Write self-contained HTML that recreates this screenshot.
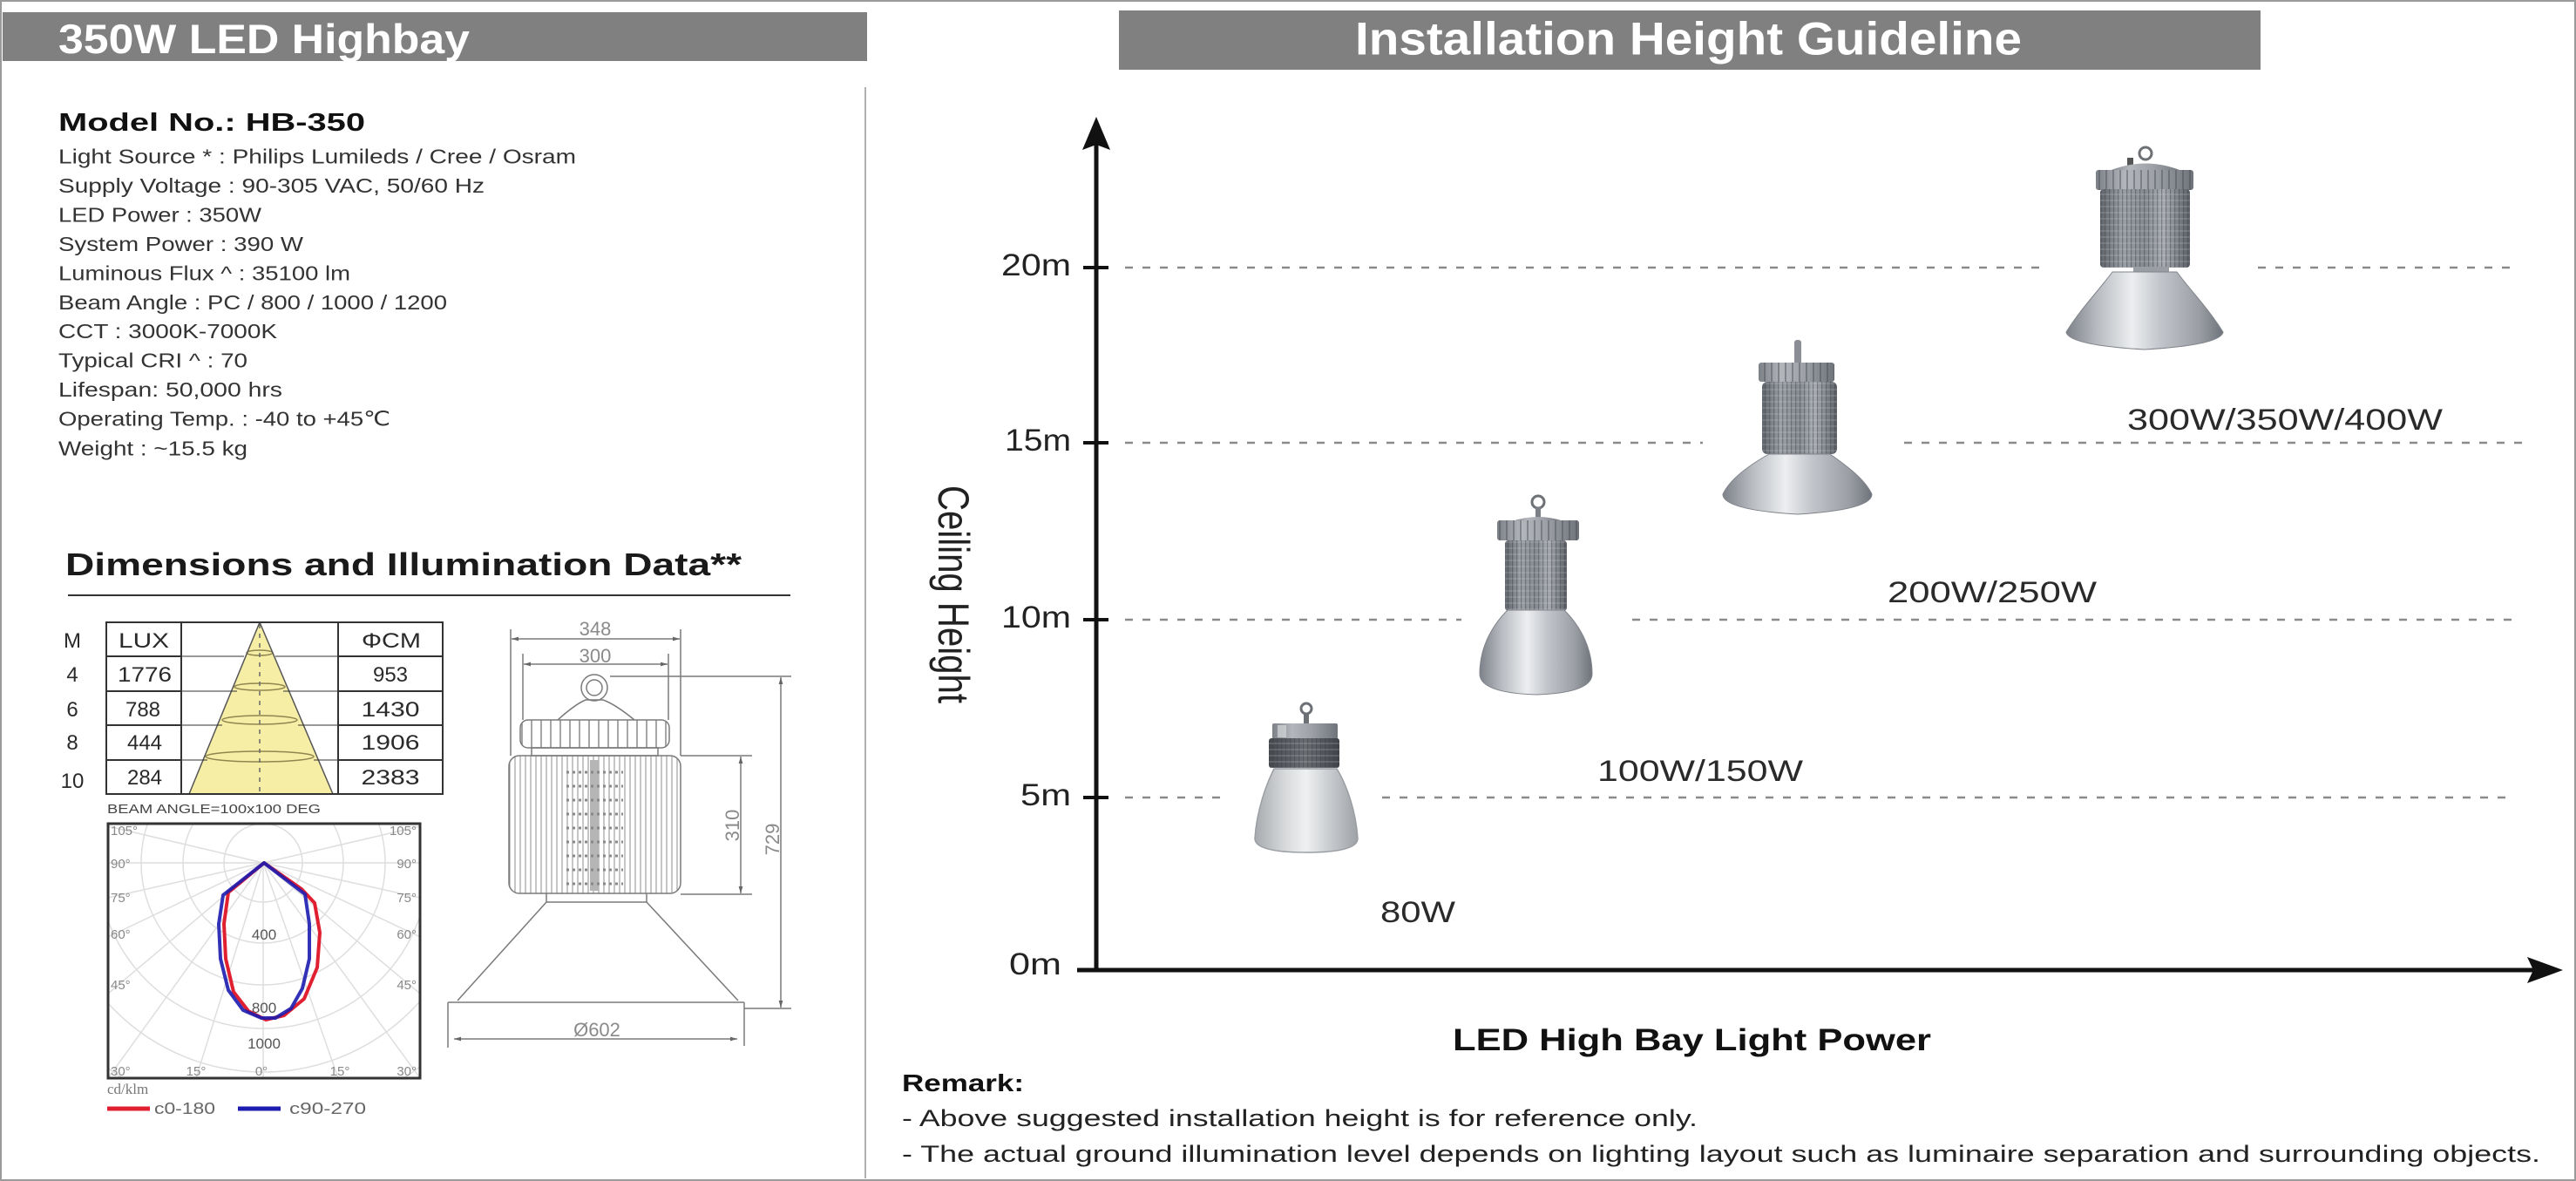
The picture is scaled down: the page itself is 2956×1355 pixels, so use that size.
<!DOCTYPE html>
<html><head><meta charset="utf-8"><style>
html,body{margin:0;padding:0;background:#fff;}
svg{display:block;}
text{font-family:"Liberation Sans",Arial,sans-serif;}
.serif{font-family:"Liberation Serif","DejaVu Serif",serif;}
</style></head><body>
<svg width="2956" height="1355" viewBox="0 0 2956 1355" xmlns="http://www.w3.org/2000/svg">
<defs>
  <linearGradient id="gBody" x1="0" x2="1" y1="0" y2="0">
    <stop offset="0" stop-color="#5f636a"/><stop offset=".25" stop-color="#9a9ea5"/><stop offset=".5" stop-color="#858990"/><stop offset=".7" stop-color="#a8acb2"/><stop offset="1" stop-color="#5b5f66"/>
  </linearGradient>
  <linearGradient id="gCap" x1="0" x2="1" y1="0" y2="0">
    <stop offset="0" stop-color="#7c8087"/><stop offset=".3" stop-color="#b3b6bb"/><stop offset=".6" stop-color="#9da1a7"/><stop offset="1" stop-color="#6f737a"/>
  </linearGradient>
  <linearGradient id="gRefl" x1="0" x2="1" y1="0" y2="0">
    <stop offset="0" stop-color="#7d8189"/><stop offset=".2" stop-color="#b9bcc1"/><stop offset=".42" stop-color="#eceef0"/><stop offset=".6" stop-color="#c2c5ca"/><stop offset=".85" stop-color="#9a9ea4"/><stop offset="1" stop-color="#6e727a"/>
  </linearGradient>
  <linearGradient id="gFrost" x1="0" x2="1" y1="0" y2="0">
    <stop offset="0" stop-color="#a7aaae"/><stop offset=".3" stop-color="#d8dadc"/><stop offset=".5" stop-color="#eef0f1"/><stop offset=".7" stop-color="#cdd0d3"/><stop offset="1" stop-color="#9ea1a5"/>
  </linearGradient>
  <linearGradient id="gDark" x1="0" x2="1" y1="0" y2="0">
    <stop offset="0" stop-color="#45484d"/><stop offset=".5" stop-color="#6a6d72"/><stop offset="1" stop-color="#404348"/>
  </linearGradient>
  <pattern id="pFin" width="5" height="7" patternUnits="userSpaceOnUse">
    <line x1="0.5" y1="0" x2="0.5" y2="7" stroke="#3d4046" stroke-opacity=".45" stroke-width="1.5"/>
    <line x1="0" y1="6" x2="5" y2="6" stroke="#d0d3d7" stroke-opacity=".35" stroke-width="1"/>
  </pattern>
  <pattern id="pCapFin" width="8" height="30" patternUnits="userSpaceOnUse">
    <line x1="1" y1="0" x2="1" y2="30" stroke="#4a4d52" stroke-opacity=".45" stroke-width="2"/>
  </pattern>
  <pattern id="pDrawFin" width="6" height="20" patternUnits="userSpaceOnUse">
    <line x1="3" y1="0" x2="3" y2="20" stroke="#8d8d8d" stroke-width="1"/>
  </pattern>
  <pattern id="pDrawCap" width="11" height="40" patternUnits="userSpaceOnUse">
    <line x1="5" y1="0" x2="5" y2="40" stroke="#888" stroke-width="1.5"/>
  </pattern>
  <marker id="arr" viewBox="0 0 10 10" refX="10" refY="5" markerWidth="8" markerHeight="8" orient="auto-start-reverse" markerUnits="userSpaceOnUse">
    <path d="M0,2 L10,5 L0,8 Z" fill="#666"/>
  </marker>
  <clipPath id="polarClip"><rect x="124" y="945" width="358" height="292"/></clipPath>
</defs>

<!-- frame -->
<rect x="1" y="1" width="2954" height="1353" fill="#fff" stroke="#9a9a9a" stroke-width="2"/>
<line x1="993" y1="100" x2="993" y2="1352" stroke="#b0b0b0" stroke-width="2"/>

<!-- ============ LEFT PANEL ============ -->
<rect x="3" y="14" width="992" height="56" fill="#808080"/>
<text x="67" y="61" font-size="47" font-weight="bold" fill="#fff" textLength="472" lengthAdjust="spacingAndGlyphs">350W LED Highbay</text>

<text x="67" y="150" font-size="29" font-weight="bold" fill="#111" textLength="352" lengthAdjust="spacingAndGlyphs">Model No.: HB-350</text>
<g font-size="23" fill="#333">
  <text x="67" y="187.5" textLength="594" lengthAdjust="spacingAndGlyphs">Light Source * : Philips Lumileds / Cree / Osram</text>
  <text x="67" y="221" textLength="489" lengthAdjust="spacingAndGlyphs">Supply Voltage : 90-305 VAC, 50/60 Hz</text>
  <text x="67" y="254.5" textLength="233" lengthAdjust="spacingAndGlyphs">LED Power : 350W</text>
  <text x="67" y="288" textLength="281" lengthAdjust="spacingAndGlyphs">System Power : 390 W</text>
  <text x="67" y="321.5" textLength="335" lengthAdjust="spacingAndGlyphs">Luminous Flux ^ : 35100 lm</text>
  <text x="67" y="355" textLength="446" lengthAdjust="spacingAndGlyphs">Beam Angle : PC / 800 / 1000 / 1200</text>
  <text x="67" y="388" textLength="251" lengthAdjust="spacingAndGlyphs">CCT : 3000K-7000K</text>
  <text x="67" y="421.5" textLength="217" lengthAdjust="spacingAndGlyphs">Typical CRI ^ : 70</text>
  <text x="67" y="455" textLength="257" lengthAdjust="spacingAndGlyphs">Lifespan: 50,000 hrs</text>
  <text x="67" y="488.5" textLength="381" lengthAdjust="spacingAndGlyphs">Operating Temp. : -40 to +45℃</text>
  <text x="67" y="522.5" textLength="217" lengthAdjust="spacingAndGlyphs">Weight : ~15.5 kg</text>
</g>

<text x="75" y="660" font-size="36" font-weight="bold" fill="#1a1a1a" textLength="776" lengthAdjust="spacingAndGlyphs">Dimensions and Illumination Data**</text>
<line x1="78" y1="683" x2="907" y2="683" stroke="#333" stroke-width="2"/>

<!-- table -->
<polygon points="298,714 217,911 382,911" fill="#f7eea6"/>
<g fill="none" stroke="#8f8650" stroke-width="1.5">
  <ellipse cx="298" cy="749" rx="15" ry="3"/>
  <ellipse cx="298" cy="788" rx="29" ry="4"/>
  <ellipse cx="298" cy="826" rx="43" ry="5"/>
  <ellipse cx="298" cy="868" rx="62" ry="6"/>
</g>
<line x1="298" y1="716" x2="298" y2="911" stroke="#666" stroke-width="1.5" stroke-dasharray="5 6"/>
<line x1="298" y1="714" x2="217" y2="911" stroke="#555" stroke-width="1.5"/>
<line x1="298" y1="714" x2="382" y2="911" stroke="#555" stroke-width="1.5"/>
<g stroke="#333" stroke-width="2" fill="none">
  <rect x="122" y="714" width="386" height="197"/>
  <line x1="208" y1="714" x2="208" y2="911"/>
  <line x1="388" y1="714" x2="388" y2="911"/>
  <line x1="122" y1="753" x2="208" y2="753"/><line x1="388" y1="753" x2="508" y2="753"/>
  <line x1="122" y1="793" x2="208" y2="793"/><line x1="388" y1="793" x2="508" y2="793"/>
  <line x1="122" y1="832" x2="208" y2="832"/><line x1="388" y1="832" x2="508" y2="832"/>
  <line x1="122" y1="872" x2="208" y2="872"/><line x1="388" y1="872" x2="508" y2="872"/>
  <line x1="208" y1="753" x2="280" y2="753" stroke-opacity=".5"/><line x1="316" y1="753" x2="388" y2="753" stroke-opacity=".5"/>
  <line x1="208" y1="793" x2="272" y2="793" stroke-opacity=".5"/><line x1="325" y1="793" x2="388" y2="793" stroke-opacity=".5"/>
  <line x1="208" y1="832" x2="255" y2="832" stroke-opacity=".5"/><line x1="342" y1="832" x2="388" y2="832" stroke-opacity=".5"/>
  <line x1="208" y1="872" x2="238" y2="872" stroke-opacity=".5"/><line x1="360" y1="872" x2="388" y2="872" stroke-opacity=".5"/>
</g>
<g font-size="24" fill="#2a2a2a" text-anchor="middle">
  <text x="83" y="743">M</text>
  <text x="83" y="782">4</text>
  <text x="83" y="822">6</text>
  <text x="83" y="860">8</text>
  <text x="83" y="904">10</text>
  <text x="165" y="743" textLength="58" lengthAdjust="spacingAndGlyphs">LUX</text>
  <text x="166" y="782" textLength="62" lengthAdjust="spacingAndGlyphs">1776</text>
  <text x="164" y="822">788</text>
  <text x="166" y="860">444</text>
  <text x="166" y="900">284</text>
  <text x="449" y="743" textLength="68" lengthAdjust="spacingAndGlyphs">ΦCM</text>
  <text x="448" y="782">953</text>
  <text x="448" y="822" textLength="67" lengthAdjust="spacingAndGlyphs">1430</text>
  <text x="448" y="860" textLength="67" lengthAdjust="spacingAndGlyphs">1906</text>
  <text x="448" y="900" textLength="67" lengthAdjust="spacingAndGlyphs">2383</text>
</g>
<text x="123" y="933" font-size="15" fill="#444" textLength="245" lengthAdjust="spacingAndGlyphs">BEAM ANGLE=100x100 DEG</text>

<!-- polar chart -->
<rect x="124" y="945" width="358" height="292" fill="#fff"/>
<g clip-path="url(#polarClip)" fill="none" stroke="#dedede" stroke-width="1.5">
  <circle cx="302" cy="990" r="45"/>
  <circle cx="302" cy="990" r="92"/>
  <circle cx="302" cy="990" r="140"/>
  <circle cx="302" cy="990" r="190"/>
  <circle cx="302" cy="990" r="240"/>
  <circle cx="302" cy="990" r="295"/>
  <circle cx="302" cy="990" r="355"/>
  <line x1="302" y1="990" x2="124" y2="948"/><line x1="302" y1="990" x2="482" y2="948"/>
  <line x1="302" y1="990" x2="124" y2="990"/><line x1="302" y1="990" x2="482" y2="990"/>
  <line x1="302" y1="990" x2="124" y2="1030"/><line x1="302" y1="990" x2="482" y2="1030"/>
  <line x1="302" y1="990" x2="124" y2="1075"/><line x1="302" y1="990" x2="482" y2="1075"/>
  <line x1="302" y1="990" x2="124" y2="1140"/><line x1="302" y1="990" x2="482" y2="1140"/>
  <line x1="302" y1="990" x2="124" y2="1237"/><line x1="302" y1="990" x2="482" y2="1237"/>
  <line x1="302" y1="990" x2="225" y2="1237"/><line x1="302" y1="990" x2="388" y2="1237"/>
  <line x1="302" y1="990" x2="302" y2="1237"/>
</g>
<g class="serif" font-size="15" fill="#888">
  <text x="127" y="958">105°</text><text x="478" y="958" text-anchor="end">105°</text>
  <text x="127" y="996">90°</text><text x="478" y="996" text-anchor="end">90°</text>
  <text x="127" y="1035">75°</text><text x="478" y="1035" text-anchor="end">75°</text>
  <text x="127" y="1077">60°</text><text x="478" y="1077" text-anchor="end">60°</text>
  <text x="127" y="1135">45°</text><text x="478" y="1135" text-anchor="end">45°</text>
  <text x="127" y="1234">30°</text><text x="225" y="1234" text-anchor="middle">15°</text>
  <text x="300" y="1234" text-anchor="middle">0°</text><text x="390" y="1234" text-anchor="middle">15°</text>
  <text x="478" y="1234" text-anchor="end">30°</text>
</g>
<g class="serif" font-size="17" fill="#555" text-anchor="middle">
  <text x="303" y="1078">400</text>
  <text x="303" y="1162">800</text>
  <text x="303" y="1203">1000</text>
</g>
<path d="M303,990 L262,1024 L257,1060 L259,1100 L268,1138 L285,1160 L305,1170 L326,1165 L349,1146 L364,1110 L367,1070 L361,1036 L346,1020 Z" fill="none" stroke="#e02030" stroke-width="4" stroke-linejoin="round"/>
<path d="M303,990 L256,1027 L251,1060 L253,1100 L262,1136 L279,1159 L300,1168 L316,1168 L334,1157 L347,1134 L355,1100 L355,1060 L350,1026 Z" fill="none" stroke="#1c1cb0" stroke-width="4" stroke-linejoin="round" stroke-opacity=".9"/>
<rect x="124" y="945" width="358" height="292" fill="none" stroke="#333" stroke-width="3"/>
<text class="serif" x="123" y="1255" font-size="17" fill="#777">cd/klm</text>
<line x1="123" y1="1272" x2="172" y2="1272" stroke="#e02030" stroke-width="5"/>
<text x="177" y="1278" font-size="18" fill="#666" textLength="70" lengthAdjust="spacingAndGlyphs">c0-180</text>
<line x1="273" y1="1272" x2="322" y2="1272" stroke="#1c1cb0" stroke-width="5"/>
<text x="332" y="1278" font-size="18" fill="#666" textLength="88" lengthAdjust="spacingAndGlyphs">c90-270</text>

<!-- technical drawing -->
<g stroke="#7a7a7a" stroke-width="1.5" fill="none">
  <line x1="586" y1="722" x2="586" y2="867"/>
  <line x1="781" y1="722" x2="781" y2="867"/>
  <line x1="587" y1="733" x2="780" y2="733" marker-start="url(#arr)" marker-end="url(#arr)"/>
  <line x1="600" y1="750" x2="600" y2="826"/>
  <line x1="767" y1="750" x2="767" y2="826"/>
  <line x1="601" y1="762" x2="766" y2="762" marker-start="url(#arr)" marker-end="url(#arr)"/>
  <circle cx="682" cy="789" r="15"/>
  <circle cx="682" cy="789" r="9"/>
  <path d="M640,826 Q660,808 672,803 L692,803 Q706,808 728,826"/>
  <rect x="597" y="826" width="171" height="32" rx="9" fill="url(#pDrawCap)"/>
  <rect x="610" y="858" width="145" height="9"/>
  <rect x="584" y="867" width="197" height="158" rx="12" fill="url(#pDrawFin)"/>
  <rect x="677" y="872" width="10" height="150" fill="#b5b5b5" stroke="none"/>
  <line x1="627" y1="1025" x2="627" y2="1035"/><line x1="742" y1="1025" x2="742" y2="1035"/>
  <line x1="627" y1="1035" x2="742" y2="1035"/>
  <line x1="627" y1="1035" x2="525" y2="1148"/>
  <line x1="742" y1="1035" x2="847" y2="1148"/>
  <line x1="514" y1="1150" x2="854" y2="1150"/>
  <line x1="514" y1="1150" x2="514" y2="1202"/>
  <line x1="854" y1="1150" x2="854" y2="1200"/>
  <line x1="521" y1="1192" x2="846" y2="1192" marker-start="url(#arr)" marker-end="url(#arr)"/>
  <line x1="781" y1="867" x2="863" y2="867"/>
  <line x1="781" y1="1026" x2="863" y2="1026"/>
  <line x1="850" y1="868" x2="850" y2="1025" marker-start="url(#arr)" marker-end="url(#arr)"/>
  <line x1="700" y1="776" x2="908" y2="776"/>
  <line x1="854" y1="1157" x2="908" y2="1157"/>
  <line x1="896" y1="777" x2="896" y2="1156" marker-start="url(#arr)" marker-end="url(#arr)"/>
</g>
<g stroke="#888" stroke-width="3" stroke-dasharray="3 4">
  <line x1="650" y1="886" x2="715" y2="886"/><line x1="650" y1="902" x2="715" y2="902"/>
  <line x1="650" y1="918" x2="715" y2="918"/><line x1="650" y1="934" x2="715" y2="934"/>
  <line x1="650" y1="950" x2="715" y2="950"/><line x1="650" y1="966" x2="715" y2="966"/>
  <line x1="650" y1="982" x2="715" y2="982"/><line x1="650" y1="998" x2="715" y2="998"/>
  <line x1="650" y1="1014" x2="715" y2="1014"/>
</g>
<g font-size="22" fill="#8a8a8a" text-anchor="middle">
  <text x="683" y="729">348</text>
  <text x="683" y="760">300</text>
  <text x="685" y="1189">Ø602</text>
  <text transform="translate(848,947) rotate(-90)">310</text>
  <text transform="translate(894,963) rotate(-90)">729</text>
</g>

<!-- ============ RIGHT PANEL ============ -->
<rect x="1284" y="12" width="1310" height="68" fill="#808080"/>
<text x="1555" y="62.5" font-size="53" font-weight="bold" fill="#fff" textLength="765" lengthAdjust="spacingAndGlyphs">Installation Height Guideline</text>

<!-- dashed gridlines -->
<g stroke="#8a8a8a" stroke-width="2.5" stroke-dasharray="9 11">
  <line x1="1291" y1="307" x2="2347" y2="307"/>
  <line x1="2591" y1="307" x2="2884" y2="307"/>
  <line x1="1291" y1="508" x2="1954" y2="508"/>
  <line x1="2185" y1="508" x2="2894" y2="508"/>
  <line x1="1291" y1="711" x2="1677" y2="711"/>
  <line x1="1873" y1="711" x2="2884" y2="711"/>
  <line x1="1291" y1="915" x2="1405" y2="915"/>
  <line x1="1586" y1="915" x2="2884" y2="915"/>
</g>

<!-- axes -->
<line x1="1258" y1="160" x2="1258" y2="1115" stroke="#111" stroke-width="5"/>
<polygon points="1258,134 1274,172 1258,166 1242,172" fill="#111"/>
<line x1="1236" y1="1113" x2="2912" y2="1113" stroke="#111" stroke-width="5"/>
<polygon points="2941,1113 2900,1128 2907,1113 2900,1098" fill="#111"/>
<g stroke="#111" stroke-width="4">
  <line x1="1243" y1="307" x2="1272" y2="307"/>
  <line x1="1243" y1="508" x2="1272" y2="508"/>
  <line x1="1243" y1="711" x2="1272" y2="711"/>
  <line x1="1243" y1="915" x2="1272" y2="915"/>
</g>
<g font-size="35" fill="#222" text-anchor="end">
  <text x="1229" y="316" textLength="80" lengthAdjust="spacingAndGlyphs">20m</text>
  <text x="1229" y="517" textLength="76" lengthAdjust="spacingAndGlyphs">15m</text>
  <text x="1229" y="720" textLength="80" lengthAdjust="spacingAndGlyphs">10m</text>
  <text x="1229" y="924" textLength="58" lengthAdjust="spacingAndGlyphs">5m</text>
  <text x="1218" y="1118" textLength="60" lengthAdjust="spacingAndGlyphs">0m</text>
</g>
<text transform="translate(1077,682) rotate(90)" font-size="50" fill="#222" text-anchor="middle" textLength="250" lengthAdjust="spacingAndGlyphs">Ceiling Height</text>

<g font-size="34" fill="#2a2a2a">
  <text x="2441" y="493" textLength="362" lengthAdjust="spacingAndGlyphs">300W/350W/400W</text>
  <text x="2166" y="691" textLength="240" lengthAdjust="spacingAndGlyphs">200W/250W</text>
  <text x="1833" y="896" textLength="236" lengthAdjust="spacingAndGlyphs">100W/150W</text>
  <text x="1584" y="1058" textLength="86" lengthAdjust="spacingAndGlyphs">80W</text>
</g>

<text x="1667" y="1205" font-size="35" font-weight="bold" fill="#111" textLength="549" lengthAdjust="spacingAndGlyphs">LED High Bay Light Power</text>
<text x="1035" y="1252" font-size="28" font-weight="bold" fill="#111" textLength="140" lengthAdjust="spacingAndGlyphs">Remark:</text>
<text x="1035" y="1292" font-size="27" fill="#222" textLength="913" lengthAdjust="spacingAndGlyphs">- Above suggested installation height is for reference only.</text>
<text x="1035" y="1333" font-size="27" fill="#222" textLength="1880" lengthAdjust="spacingAndGlyphs">- The actual ground illumination level depends on lighting layout such as luminaire separation and surrounding objects.</text>

<!-- Lamp 4 : 300/350/400W -->
<g>
  <circle cx="2462" cy="176" r="7" fill="none" stroke="#6d7075" stroke-width="3"/>
  <rect x="2441" y="181" width="7" height="9" fill="#555"/>
  <path d="M2418,197 Q2462,178 2506,197 Z" fill="url(#gCap)"/>
  <rect x="2405" y="195" width="112" height="23" rx="3" fill="url(#gCap)"/>
  <rect x="2405" y="195" width="112" height="23" rx="3" fill="url(#pCapFin)"/>
  <rect x="2410" y="217" width="103" height="90" rx="4" fill="url(#gBody)"/>
  <rect x="2410" y="217" width="103" height="90" rx="4" fill="url(#pFin)"/>
  <rect x="2448" y="306" width="41" height="8" fill="#9a9ea4"/>
  <path d="M2424,312 L2498,312 C2515,335 2535,355 2551,381 Q2548,396 2461,401 Q2374,396 2371,381 C2387,355 2407,335 2424,312 Z" fill="url(#gRefl)" stroke="#80848a" stroke-width="1"/>
</g>

<!-- Lamp 3 : 200/250W -->
<g>
  <rect x="2059" y="390" width="8" height="28" rx="3" fill="#8b8f95"/>
  <rect x="2018" y="416" width="87" height="22" rx="3" fill="url(#gCap)"/>
  <rect x="2018" y="416" width="87" height="22" rx="3" fill="url(#pCapFin)"/>
  <rect x="2022" y="438" width="86" height="83" rx="6" fill="url(#gBody)"/>
  <rect x="2022" y="438" width="86" height="83" rx="6" fill="url(#pFin)"/>
  <path d="M2030,521 L2100,521 C2120,535 2140,550 2148,567 Q2148,585 2063,590 Q1977,585 1977,567 C1985,550 2005,535 2030,521 Z" fill="url(#gRefl)" stroke="#80848a" stroke-width="1"/>
</g>

<!-- Lamp 2 : 100/150W -->
<g>
  <circle cx="1765" cy="576" r="7" fill="none" stroke="#6d7075" stroke-width="3"/>
  <rect x="1762" y="582" width="6" height="14" fill="#7d8187"/>
  <path d="M1735,598 Q1765,588 1795,598 Z" fill="url(#gCap)"/>
  <rect x="1718" y="597" width="94" height="23" rx="3" fill="url(#gCap)"/>
  <rect x="1718" y="597" width="94" height="23" rx="3" fill="url(#pCapFin)"/>
  <rect x="1727" y="620" width="71" height="81" rx="4" fill="url(#gBody)"/>
  <rect x="1727" y="620" width="71" height="81" rx="4" fill="url(#pFin)"/>
  <path d="M1730,700 L1795,700 C1815,720 1827,745 1827,773 Q1827,795 1763,797 Q1698,795 1698,773 C1698,745 1710,720 1730,700 Z" fill="url(#gRefl)" stroke="#80848a" stroke-width="1"/>
</g>

<!-- Lamp 1 : 80W -->
<g>
  <circle cx="1499" cy="813" r="6" fill="none" stroke="#6d7075" stroke-width="3"/>
  <rect x="1496" y="818" width="6" height="14" fill="#6d7075"/>
  <rect x="1460" y="830" width="75" height="18" rx="2" fill="url(#gCap)"/>
  <rect x="1466" y="832" width="10" height="14" fill="#d5d7da" opacity=".7"/>
  <rect x="1456" y="847" width="81" height="34" rx="3" fill="url(#gDark)"/>
  <rect x="1456" y="847" width="81" height="34" rx="3" fill="url(#pFin)"/>
  <path d="M1462,882 L1534,882 C1545,900 1556,930 1558,962 Q1558,978 1499,978 Q1440,978 1440,962 C1442,930 1453,900 1462,882 Z" fill="url(#gFrost)" stroke="#9a9ea3" stroke-width="1.5"/>
</g>
</svg>
</body></html>
